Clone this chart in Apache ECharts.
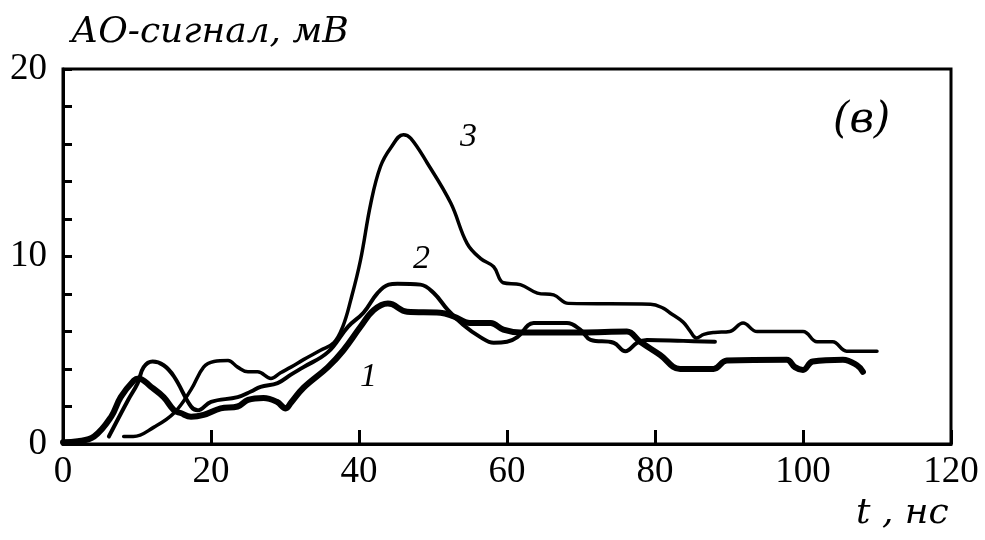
<!DOCTYPE html>
<html>
<head>
<meta charset="utf-8">
<title>АО-сигнал</title>
<script src="https://cdn.jsdelivr.net/npm/echarts@6/dist/echarts.min.js"></script>
<style>
  html, body { margin: 0; padding: 0; background: #fff; }
  #chart { width: 985px; height: 540px; }
</style>
</head>
<body>
<div id="chart"></div>
<script>
// t, нс
var xTicks = [0, 20, 40, 60, 80, 100, 120];
var yLabels = [0, 10, 20];

// curve 1 (thick)
var t1 = [0, 2, 4.2, 6.5, 7.8, 9.6, 10.2, 11.9, 13.6, 15, 15.9, 17.3, 19, 21.3, 23.6, 25, 27.1, 28.9, 30.1, 30.8, 32.5, 35.8, 37.9, 40.2, 42, 43.9, 44.5, 46.5, 51, 52.8, 55, 57.8, 59.5, 61.8, 70, 76.2, 78, 80.7, 83.4, 87.9, 89.7, 97.8, 98.9, 100, 101.3, 105.4, 107.3, 108.1];
var v1 = [0.1, 0.15, 0.4, 1.45, 2.5, 3.4, 3.5, 3.05, 2.5, 1.8, 1.65, 1.45, 1.55, 1.9, 2.0, 2.35, 2.45, 2.25, 1.9, 2.2, 3.0, 4.1, 5.0, 6.25, 7.15, 7.5, 7.45, 7.05, 7.0, 6.8, 6.45, 6.45, 6.1, 5.95, 5.95, 6.0, 5.45, 4.75, 4.0, 4.0, 4.45, 4.5, 4.1, 3.95, 4.4, 4.5, 4.2, 3.85];

// curve 2
var t2 = [6.2, 8.8, 10.1, 10.9, 12.1, 13.6, 15, 17.3, 18.2, 20, 23.6, 25.4, 26.7, 29, 30.8, 32.5, 35.8, 38.5, 40.6, 42.5, 44, 45.2, 48.3, 50.1, 52, 54.1, 56.4, 58.2, 60, 61.4, 63.6, 68.1, 69.9, 71.3, 74.4, 76, 77.6, 78.9, 83.8, 88.1];
var v2 = [0.4, 2.35, 3.25, 4.1, 4.4, 4.2, 3.6, 2.0, 1.8, 2.25, 2.5, 2.8, 3.05, 3.25, 3.7, 4.1, 4.9, 6.25, 7.0, 8.05, 8.5, 8.55, 8.5, 8.05, 7.15, 6.35, 5.7, 5.4, 5.45, 5.7, 6.45, 6.45, 6.1, 5.55, 5.4, 4.95, 5.4, 5.55, 5.5, 5.45];

// curve 3
var t3 = [8.2, 9.5, 12.3, 15, 17.3, 19, 20.4, 22.3, 23.6, 25, 26.3, 28.1, 29.4, 30.8, 32.5, 34.8, 36.6, 37.8, 38.9, 40.2, 41.6, 42.9, 44.3, 46, 47, 49.2, 52.4, 54.6, 56.4, 58.2, 59.5, 61.8, 64.1, 66.3, 68.3, 79.4, 81.1, 82, 83.8, 84.7, 85.6, 86.6, 88, 90.1, 91.9, 93.8, 100, 101.9, 104, 105.9, 110];
var v3 = [0.4, 0.4, 0.9, 1.65, 2.9, 4.1, 4.4, 4.45, 4.1, 3.85, 3.85, 3.5, 3.8, 4.1, 4.5, 5.0, 5.4, 6.25, 7.7, 9.8, 12.85, 14.8, 15.8, 16.5, 16.3, 15.0, 12.85, 10.7, 9.9, 9.45, 8.6, 8.5, 8.05, 7.95, 7.5, 7.45, 7.25, 7.0, 6.5, 6.05, 5.65, 5.85, 5.95, 6.0, 6.45, 6.0, 6.0, 5.45, 5.45, 4.95, 4.95];

function pairs(xs, ys) {
  return xs.map(function (x, i) { return [x, ys[i]]; });
}

var serif = '"Liberation Serif", "DejaVu Serif", serif';
var wideSerif = '"DejaVu Serif", "Liberation Serif", serif';

function curve(name, xs, ys, width) {
  return {
    name: name,
    type: 'line',
    data: pairs(xs, ys),
    showSymbol: false,
    smooth: 0.4,
    lineStyle: { color: '#000', width: width, cap: 'round', join: 'round' },
    animation: false
  };
}

var chart = echarts.init(document.getElementById('chart'), null, { renderer: 'canvas' });

chart.setOption({
  backgroundColor: '#fff',
  animation: false,
  title: {
    text: 'АО-сигнал, мВ',
    left: 66,
    top: 10,
    textStyle: { fontFamily: wideSerif, fontStyle: 'italic', fontWeight: 'normal', fontSize: 36, color: '#000' }
  },
  grid: {
    left: 63,
    right: 34,
    top: 69,
    bottom: 96,
    show: true,
    borderColor: '#000',
    borderWidth: 3,
    backgroundColor: 'transparent'
  },
  xAxis: {
    type: 'value',
    min: 0,
    max: 120,
    interval: 20,
    splitLine: { show: false },
    axisLine: { onZero: false, lineStyle: { color: '#000', width: 3 } },
    axisTick: { inside: true, length: 14, lineStyle: { color: '#000', width: 3 } },
    axisLabel: {
      margin: 10,
      fontFamily: serif,
      fontSize: 37,
      color: '#000',
      formatter: function (v) { return xTicks.indexOf(v) >= 0 ? String(v) : ''; }
    }
  },
  yAxis: {
    type: 'value',
    min: 0,
    max: 20,
    interval: 2,
    splitLine: { show: false },
    axisLine: { onZero: false, lineStyle: { color: '#000', width: 3 } },
    axisTick: { inside: true, length: 9, lineStyle: { color: '#000', width: 3 } },
    axisLabel: {
      margin: 16,
      fontFamily: serif,
      fontSize: 37,
      color: '#000',
      formatter: function (v) { return yLabels.indexOf(v) >= 0 ? String(v) : ''; }
    }
  },
  series: [
    curve('1', t1, v1, 6),
    curve('2', t2, v2, 4),
    curve('3', t3, v3, 3.5)
  ],
  graphic: [
    { type: 'text', left: 360, top: 360, style: { text: '1', font: 'italic 34px ' + serif, fill: '#000' } },
    { type: 'text', left: 413, top: 242, style: { text: '2', font: 'italic 34px ' + serif, fill: '#000' } },
    { type: 'text', left: 460, top: 120, style: { text: '3', font: 'italic 34px ' + serif, fill: '#000' } },
    { type: 'text', left: 833, top: 100, style: { text: '(в)', font: 'italic 42px ' + wideSerif, fill: '#000' } },
    { type: 'text', left: 856, top: 496, style: { text: 't , нс', font: 'italic 36px ' + wideSerif, fill: '#000' } }
  ]
});
</script>
</body>
</html>
